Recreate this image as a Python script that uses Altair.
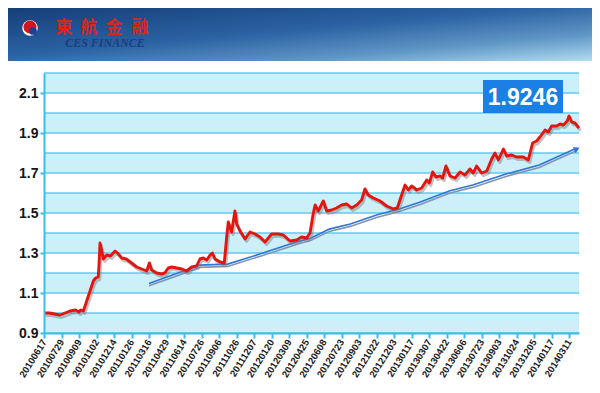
import altair as alt
import pandas as pd

# ---------------- data ----------------
tick_labels = ["20100617", "20100729", "20100909", "20101102", "20101214", "20110126",
               "20110316", "20110429", "20110614", "20110726", "20110906", "20111026",
               "20111207", "20120120", "20120309", "20120425", "20120608", "20120723",
               "20120903", "20121022", "20121203", "20130117", "20130307", "20130422",
               "20130606", "20130723", "20130903", "20131024", "20131205", "20140117",
               "20140311"]

# position in units of tick-label intervals, value of the NAV
red_pos = [0.0, 0.3, 0.6, 0.91, 1.2, 1.49, 1.8, 2.0, 2.1, 2.25, 2.44, 2.63, 2.82, 2.95,
           3.1, 3.15, 3.2, 3.3, 3.39, 3.58, 3.8, 4.06, 4.2, 4.44, 4.7, 5.0, 5.3, 5.58,
           5.87, 6.02, 6.15, 6.44, 6.72, 6.9, 7.1, 7.3, 7.58, 7.87, 8.15, 8.44, 8.72,
           8.91, 9.1, 9.3, 9.49, 9.62, 9.77, 10.06, 10.3, 10.44, 10.53, 10.72, 10.91,
           11.01, 11.2, 11.49, 11.77, 12.06, 12.34, 12.63, 13.01, 13.39, 13.67, 14.06,
           14.44, 14.72, 15.01, 15.2, 15.39, 15.49, 15.67, 15.96, 16.15, 16.44, 16.72,
           17.01, 17.3, 17.58, 17.87, 18.15, 18.34, 18.53, 18.82, 19.2, 19.58, 19.96,
           20.19, 20.34, 20.63, 20.82, 21.01, 21.3, 21.58, 21.87, 22.02, 22.21, 22.4,
           22.63, 22.78, 22.97, 23.2, 23.49, 23.77, 24.06, 24.34, 24.53, 24.72, 25.01,
           25.3, 25.58, 25.77, 25.96, 26.25, 26.44, 26.72, 27.01, 27.39, 27.67, 27.92,
           28.15, 28.34, 28.63, 28.82, 29.01, 29.3, 29.49, 29.68, 29.9, 30.0, 30.15,
           30.34, 30.57]
red_val = [1.00, 1.00, 0.995, 0.99, 1.0, 1.01, 1.015, 1.005, 1.015, 1.01, 1.06, 1.11,
           1.16, 1.175, 1.18, 1.25, 1.35, 1.31, 1.27, 1.29, 1.285, 1.31, 1.30, 1.275,
           1.27, 1.25, 1.23, 1.22, 1.21, 1.25, 1.215, 1.20, 1.195, 1.20, 1.225, 1.23,
           1.225, 1.22, 1.21, 1.23, 1.235, 1.27, 1.275, 1.265, 1.29, 1.30, 1.27, 1.255,
           1.25, 1.38, 1.455, 1.405, 1.51, 1.445, 1.41, 1.37, 1.405, 1.395, 1.38, 1.355,
           1.395, 1.395, 1.39, 1.36, 1.365, 1.38, 1.375, 1.40, 1.50, 1.54, 1.51, 1.56,
           1.51, 1.515, 1.525, 1.54, 1.545, 1.525, 1.54, 1.565, 1.62, 1.59, 1.575, 1.56,
           1.535, 1.52, 1.525, 1.565, 1.64, 1.615, 1.635, 1.615, 1.625, 1.665, 1.65,
           1.705, 1.68, 1.685, 1.675, 1.735, 1.685, 1.675, 1.705, 1.69, 1.72, 1.70,
           1.735, 1.70, 1.71, 1.77, 1.80, 1.765, 1.82, 1.785, 1.79, 1.78, 1.78, 1.765,
           1.85, 1.86, 1.88, 1.915, 1.905, 1.935, 1.935, 1.945, 1.94, 1.96, 1.985,
           1.955, 1.95, 1.9246]

trend_pos = [6.0, 7.5, 8.9, 10.5, 12.5, 14.6, 15.2, 16.3, 17.5, 19.0, 20.3, 21.5,
             23.2, 24.5, 26.4, 28.3, 30.45]
trend_val = [1.143, 1.19, 1.235, 1.24, 1.295, 1.355, 1.368, 1.415, 1.44, 1.485,
             1.515, 1.55, 1.607, 1.635, 1.69, 1.735, 1.82]

grid_values = [0.9, 1.0, 1.1, 1.2, 1.3, 1.4, 1.5, 1.6, 1.7, 1.8, 1.9, 2.0, 2.1, 2.2]
y_label_values = [0.9, 1.1, 1.3, 1.5, 1.7, 1.9, 2.1]
band_low = [0.9, 1.1, 1.3, 1.5, 1.7, 1.9, 2.1]
band_high = [1.0, 1.2, 1.4, 1.6, 1.8, 2.0, 2.2]
last_value = "1.9246"
header_chars = ["東", "航", "金", "融"]
header_sub = "CES FINANCE"

# ---------------- layout ----------------
W, H = 535, 260
CYAN = "#3cbde6"
GRID = "#62cbec"
BAND = "#cdeffa"

xscale = alt.Scale(domain=[0, 30.57], nice=False, zero=False)
yscale = alt.Scale(domain=[0.9, 2.2], nice=False, zero=False)

label_array = "[" + ",".join("'%s'" % t for t in tick_labels) + "]"

x_axis = alt.Axis(values=list(range(len(tick_labels))),
                  labelExpr=label_array + "[datum.value]",
                  labelAngle=302, labelFontSize=9.6, labelFontWeight="bold",
                  labelFont="Liberation Sans", labelColor="#1a1a1a",
                  labelOverlap=False, labelFlush=False, labelPadding=2,
                  tickSize=5, tickWidth=2, tickColor=CYAN,
                  domainColor=CYAN, domainWidth=2, grid=False, title=None, zindex=1)
y_axis = alt.Axis(values=y_label_values, format=".1f",
                  labelFontSize=14, labelFontWeight="bold",
                  labelFont="Liberation Sans", labelColor="#151515", labelPadding=2,
                  tickSize=4, tickWidth=2, tickColor=CYAN,
                  domainColor=CYAN, domainWidth=2, grid=False, title=None, zindex=1)


def X(field):
    return alt.X(field, scale=xscale, axis=x_axis)


def Y(field):
    return alt.Y(field, scale=yscale, axis=y_axis)


red_df = pd.DataFrame({"pos": red_pos, "val": red_val})
trend_df = pd.DataFrame({"pos": trend_pos, "val": trend_val})
band_df = pd.DataFrame({"lo": band_low, "hi": band_high})
grid_df = pd.DataFrame({"g": grid_values})
one = pd.DataFrame({"a": [0]})

bands = alt.Chart(band_df).mark_rect(color=BAND).encode(
    x=alt.value(0), x2=alt.value(W), y=Y("lo:Q"), y2="hi:Q")

grid = alt.Chart(grid_df).mark_rule(color=GRID, strokeWidth=1.5).encode(
    x=alt.value(0), x2=alt.value(W), y=Y("g:Q"))

red_shadow = alt.Chart(red_df).mark_line(
    color="#7a7a7a", strokeWidth=3, opacity=0.45, xOffset=1.5, yOffset=2.5,
    strokeJoin="round").encode(x=X("pos:Q"), y=Y("val:Q"))

red_line = alt.Chart(red_df).mark_line(
    color="#e3150f", strokeWidth=2.9, strokeJoin="round").encode(
    x=X("pos:Q"), y=Y("val:Q"))

trend_low = alt.Chart(trend_df).mark_line(
    color="#8293b4", strokeWidth=1.6, yOffset=1.4).encode(x=X("pos:Q"), y=Y("val:Q"))
trend_high = alt.Chart(trend_df).mark_line(
    color="#2b76d6", strokeWidth=1.6, yOffset=-0.9).encode(x=X("pos:Q"), y=Y("val:Q"))

arrow_df = pd.DataFrame({"pos": [trend_pos[-1]], "val": [trend_val[-1]]})
arrow = alt.Chart(arrow_df).mark_point(
    shape="triangle-right", filled=True, color="#2b76d6", size=45, angle=335,
    opacity=1).encode(x=X("pos:Q"), y=Y("val:Q"))

# value badge
badge = alt.Chart(one).mark_rect(color="#1b80e4").encode(
    x=alt.value(439), x2=alt.value(519), y=alt.value(7), y2=alt.value(40))
badge_text = alt.Chart(one).mark_text(
    text=last_value, color="white", fontSize=23, fontWeight="bold",
    font="Liberation Sans", align="center", baseline="middle").encode(
    x=alt.value(479), y=alt.value(24.5))

# header banner
banner = alt.Chart(one).mark_rect(
    fill=alt.LinearGradient(
        gradient="linear", x1=0, y1=0, x2=1, y2=1,
        stops=[alt.GradientStop(color="#163f78", offset=0),
               alt.GradientStop(color="#2a62a3", offset=0.45),
               alt.GradientStop(color="#5f97c6", offset=0.75),
               alt.GradientStop(color="#b3dcf1", offset=1)])).encode(
    x=alt.value(-36), x2=alt.value(548), y=alt.value(-65), y2=alt.value(-12))

logo_ring = alt.Chart(one).mark_point(shape="circle", filled=True, color="white",
                                      size=240, opacity=1).encode(
    x=alt.value(-14), y=alt.value(-45))
logo_red = alt.Chart(one).mark_point(shape="circle", filled=True, color="#d0161f",
                                     size=170, opacity=1).encode(
    x=alt.value(-14), y=alt.value(-46))
logo_blue = alt.Chart(one).mark_point(shape="circle", filled=True, color="#1d3f94",
                                      size=60, opacity=1).encode(
    x=alt.value(-11), y=alt.value(-42))

char_x = [20, 45, 70, 96]
header_layers = []
for ch, cx in zip(header_chars, char_x):
    header_layers.append(alt.Chart(one).mark_text(
        text=ch, color="#d8261e", fontSize=17, fontWeight="bold",
        font="Noto Sans CJK TC", align="center", baseline="middle").encode(
        x=alt.value(cx), y=alt.value(-45)))
sub_text = alt.Chart(one).mark_text(
    text=header_sub, color="#1f3c7c", fontSize=12, fontStyle="italic",
    fontWeight="bold", font="Liberation Serif", align="center",
    baseline="middle").encode(x=alt.value(61), y=alt.value(-30))

chart = alt.layer(
    banner, logo_ring, logo_red, logo_blue, *header_layers, sub_text,
    bands, grid, trend_low, trend_high, arrow, red_shadow, red_line,
    badge, badge_text
).properties(
    width=W, height=H,
    autosize=alt.AutoSizeParams(type="none"),
    padding={"left": 36, "top": 65, "right": 13, "bottom": 52},
    background="white"
).configure_view(stroke=None)

chart.save("out.html", embed_options={"renderer": "svg", "actions": False})
